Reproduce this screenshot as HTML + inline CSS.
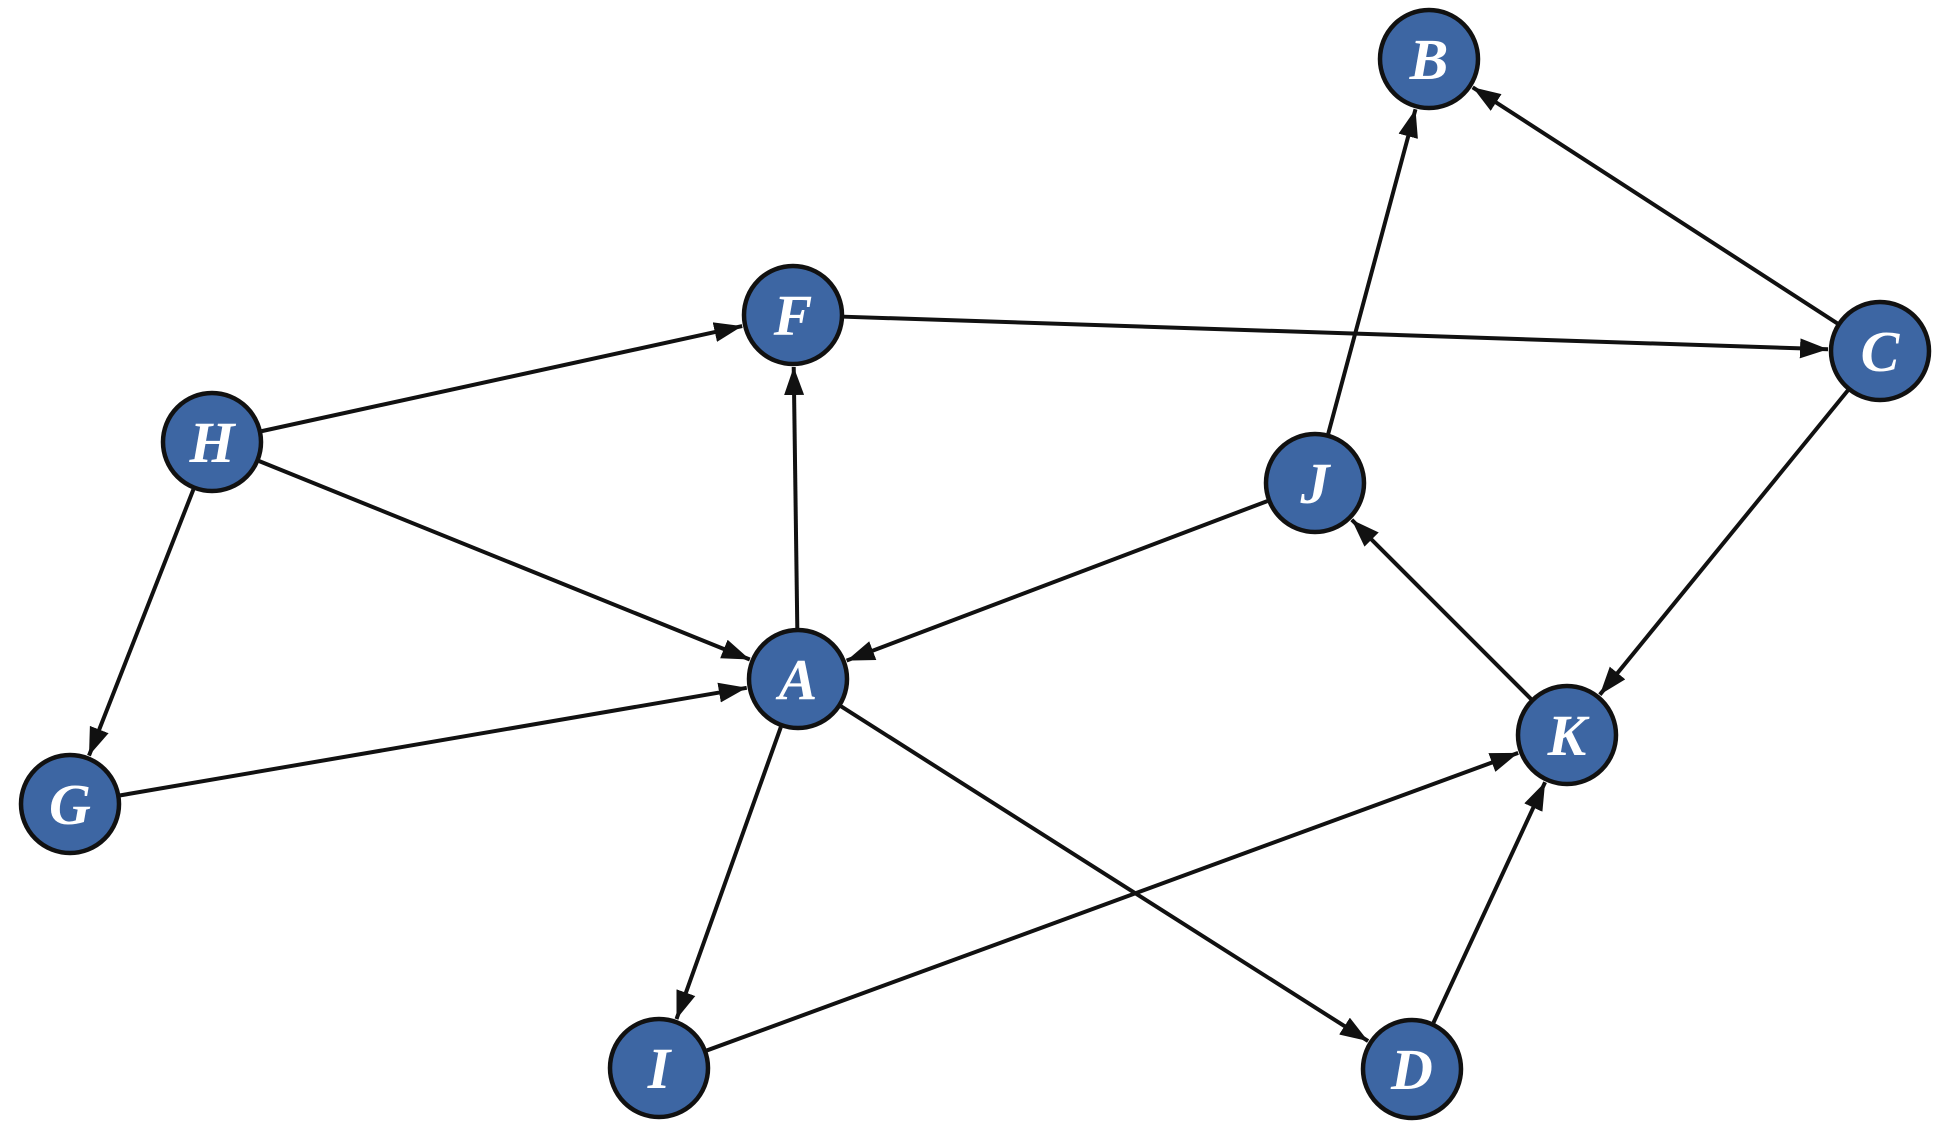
<!DOCTYPE html>
<html><head><meta charset="utf-8"><style>html,body{margin:0;padding:0;background:#fff}</style></head>
<body>
<svg width="1947" height="1131" viewBox="0 0 1947 1131" xmlns="http://www.w3.org/2000/svg">
<defs>
<marker id="a" viewBox="0 0 28 20" refX="28" refY="10" markerWidth="28" markerHeight="20" orient="auto" markerUnits="userSpaceOnUse"><path d="M0,0 L28,10 L0,20 z" fill="#111"/></marker></defs>
<g stroke="#111" stroke-width="4" fill="none" marker-end="url(#a)" id="edges"></g>
<g id="nodes"></g>
</svg>
<script>
var N={B:[1429,59],F:[793,315],C:[1880,351],H:[212,442],J:[1315,483],A:[798,679],K:[1567,735],G:[70,804],I:[659,1068],D:[1412,1069]};
var E=[["H","F"],["H","A"],["H","G"],["F","C"],["A","F"],["J","B"],["C","B"],["J","A"],["K","J"],["C","K"],["G","A"],["A","I"],["A","D"],["I","K"],["D","K"]];
var R=51,ns="http://www.w3.org/2000/svg",eg=document.getElementById("edges"),ng=document.getElementById("nodes");
E.forEach(function(e){var a=N[e[0]],b=N[e[1]],dx=b[0]-a[0],dy=b[1]-a[1],d=Math.hypot(dx,dy),ux=dx/d,uy=dy/d;
var l=document.createElementNS(ns,"line");l.setAttribute("x1",a[0]+ux*R);l.setAttribute("y1",a[1]+uy*R);l.setAttribute("x2",b[0]-ux*(R+1));l.setAttribute("y2",b[1]-uy*(R+1));eg.appendChild(l);});
for(var k in N){var c=document.createElementNS(ns,"circle");c.setAttribute("cx",N[k][0]);c.setAttribute("cy",N[k][1]);c.setAttribute("r",R-2);c.setAttribute("fill","#3d66a3");c.setAttribute("stroke","#111");c.setAttribute("stroke-width","4.5");ng.appendChild(c);
var t=document.createElementNS(ns,"text");t.setAttribute("x",N[k][0]);t.setAttribute("y",N[k][1]+20);t.setAttribute("text-anchor","middle");t.setAttribute("fill","#fff");t.setAttribute("font-family","Liberation Serif, serif");t.setAttribute("font-style","italic");t.setAttribute("font-weight","bold");t.setAttribute("font-size","58");t.textContent=k;ng.appendChild(t);}
</script>
</body></html>
